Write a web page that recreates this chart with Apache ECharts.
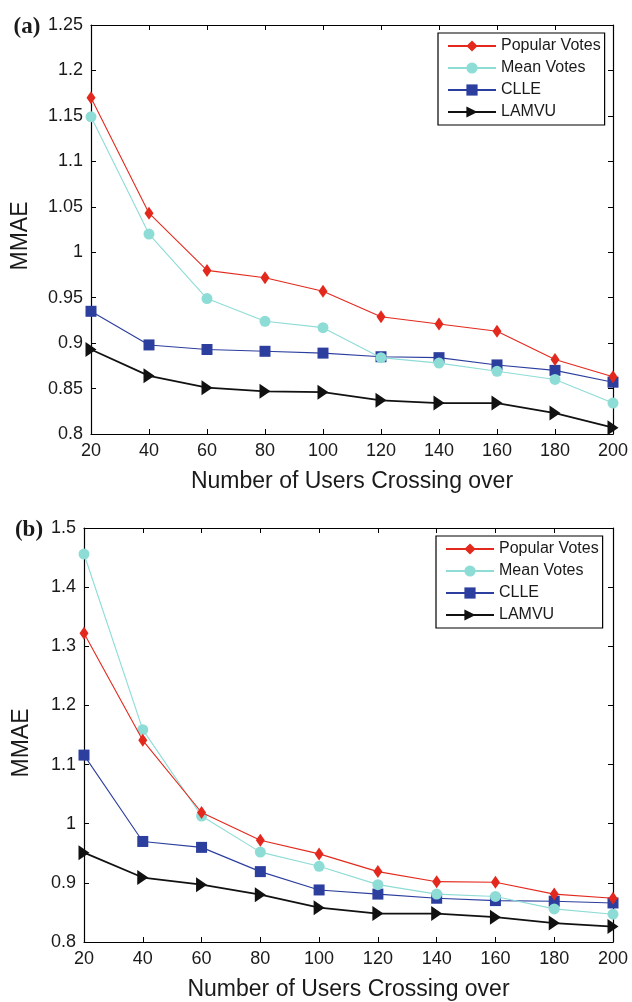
<!DOCTYPE html>
<html>
<head>
<meta charset="utf-8">
<script src="https://cdn.jsdelivr.net/npm/echarts@6/dist/echarts.min.js"></script>
<style>
  html, body { margin: 0; padding: 0; background: #fff; }
  #chart { width: 632px; height: 1002px; }
</style>
</head>
<body>
<div id="chart"></div>
<script>
// users crossing over (x axis)
var xUsers = [20, 40, 60, 80, 100, 120, 140, 160, 180, 200];

// panel (a)
var popularA = [1.170, 1.043, 0.980, 0.972, 0.957, 0.929, 0.921, 0.913, 0.882, 0.863];
var meanA    = [1.149, 1.020, 0.949, 0.924, 0.917, 0.884, 0.878, 0.869, 0.860, 0.834];
var clleA    = [0.935, 0.898, 0.893, 0.891, 0.889, 0.885, 0.884, 0.876, 0.870, 0.857];
var lamvuA   = [0.893, 0.864, 0.851, 0.847, 0.846, 0.837, 0.834, 0.834, 0.823, 0.807];

// panel (b)
var popularB = [1.322, 1.141, 1.019, 0.972, 0.949, 0.919, 0.902, 0.901, 0.881, 0.874];
var meanB    = [1.456, 1.159, 1.013, 0.952, 0.928, 0.897, 0.881, 0.877, 0.856, 0.847];
var clleB    = [1.116, 0.970, 0.960, 0.919, 0.888, 0.881, 0.874, 0.870, 0.869, 0.866];
var lamvuB   = [0.951, 0.909, 0.897, 0.880, 0.858, 0.848, 0.848, 0.842, 0.832, 0.826];

var seriesNames = ['Popular Votes', 'Mean Votes', 'CLLE', 'LAMVU'];

var txt = '#1a1a1a';
var font = 'Liberation Sans';

function pairs(ys) {
    return xUsers.map(function (x, i) { return [x, ys[i]]; });
}

// style of each method: colour, marker
var styles = [
    { color: '#e3291d', symbol: 'diamond', size: [9, 13], rotate: 0, width: 1.1 },
    { color: '#8edcd6', symbol: 'circle', size: 11, rotate: 0, width: 1.1 },
    { color: '#2c3e9e', symbol: 'rect', size: 11, rotate: 0, width: 1.1 },
    { color: '#111111', symbol: 'triangle', size: [15, 11], rotate: -90, width: 1.8 }
];

function makeSeries(idx, datas) {
    return datas.map(function (d, k) {
        var s = styles[k];
        return {
            name: seriesNames[k],
            type: 'line',
            xAxisIndex: idx * 2,
            yAxisIndex: idx * 2,
            data: pairs(d),
            symbol: s.symbol,
            symbolSize: s.size,
            symbolRotate: s.rotate,
            showAllSymbol: true,
            clip: false,
            itemStyle: { color: s.color },
            lineStyle: { color: s.color, width: s.width },
            emphasis: { disabled: true },
            z: 10 - k
        };
    });
}

function xAxes(gridIdx, gap) {
    return [{
        type: 'value', gridIndex: gridIdx, min: 20, max: 200, interval: 20,
        name: 'Number of Users Crossing over', nameLocation: 'middle', nameGap: gap,
        nameTextStyle: { fontFamily: font, fontSize: 23, color: txt },
        axisLine: { lineStyle: { color: '#000', width: 1.2 } },
        axisTick: { inside: true, length: 5, lineStyle: { color: '#000' } },
        axisLabel: { fontFamily: font, fontSize: 18, color: txt, margin: 8 },
        splitLine: { show: false }
    }, {
        type: 'value', gridIndex: gridIdx, position: 'top', min: 20, max: 200, interval: 20,
        axisLine: { lineStyle: { color: '#000', width: 1.2 } },
        axisTick: { inside: true, length: 5, lineStyle: { color: '#000' } },
        axisLabel: { show: false },
        splitLine: { show: false }
    }];
}

function yAxes(gridIdx, mn, mx, step) {
    return [{
        type: 'value', gridIndex: gridIdx, min: mn, max: mx, interval: step,
        axisLine: { show: true, lineStyle: { color: '#000', width: 1.2 } },
        axisTick: { show: true, inside: true, length: 5, lineStyle: { color: '#000' } },
        axisLabel: { fontFamily: font, fontSize: 18, color: txt, margin: 8,
            formatter: function (v) { return String(parseFloat(v.toFixed(2))); } },
        splitLine: { show: false }
    }, {
        type: 'value', gridIndex: gridIdx, position: 'right', min: mn, max: mx, interval: step,
        axisLine: { show: true, lineStyle: { color: '#000', width: 1.2 } },
        axisTick: { show: true, inside: true, length: 5, lineStyle: { color: '#000' } },
        axisLabel: { show: false },
        splitLine: { show: false }
    }];
}

function legendAt(left, top) {
    return {
        left: left, top: top, orient: 'vertical',
        data: seriesNames,
        itemWidth: 48, itemHeight: 14, itemGap: 6, itemTextGap: 6,
        padding: [5, 4, 5, 9],
        borderColor: '#000', borderWidth: 1.2,
        backgroundColor: '#fff',
        selectedMode: false,
        textStyle: { fontFamily: font, fontSize: 16, lineHeight: 16, color: txt },
        z: 20
    };
}

function label(text, x, y, opts) {
    return {
        type: 'text', x: x, y: y, rotation: opts.rotation || 0, z: 30,
        style: {
            text: text, fill: txt, align: 'center', verticalAlign: 'middle',
            font: opts.font
        }
    };
}

var myChart = echarts.init(document.getElementById('chart'), null, { renderer: 'canvas' });
myChart.setOption({
    animation: false,
    backgroundColor: '#fff',
    graphic: [
        label('(a)', 27, 27, { font: 'bold 23px "Liberation Serif"' }),
        label('(b)', 29, 530, { font: 'bold 23px "Liberation Serif"' }),
        label('MMAE', 21, 236, { font: '23px "Liberation Sans"', rotation: Math.PI / 2 }),
        label('MMAE', 22, 743, { font: '23px "Liberation Sans"', rotation: Math.PI / 2 })
    ],
    legend: [legendAt(438, 33), legendAt(436, 536)],
    grid: [
        { left: 91, top: 25, width: 522, height: 409, containLabel: false },
        { left: 84, top: 528, width: 529, height: 416, containLabel: false }
    ],
    xAxis: xAxes(0, 36).concat(xAxes(1, 36)),
    yAxis: yAxes(0, 0.8, 1.25, 0.05).concat(yAxes(1, 0.8, 1.5, 0.1)),
    series: makeSeries(0, [popularA, meanA, clleA, lamvuA])
        .concat(makeSeries(1, [popularB, meanB, clleB, lamvuB]))
});
</script>
</body>
</html>
